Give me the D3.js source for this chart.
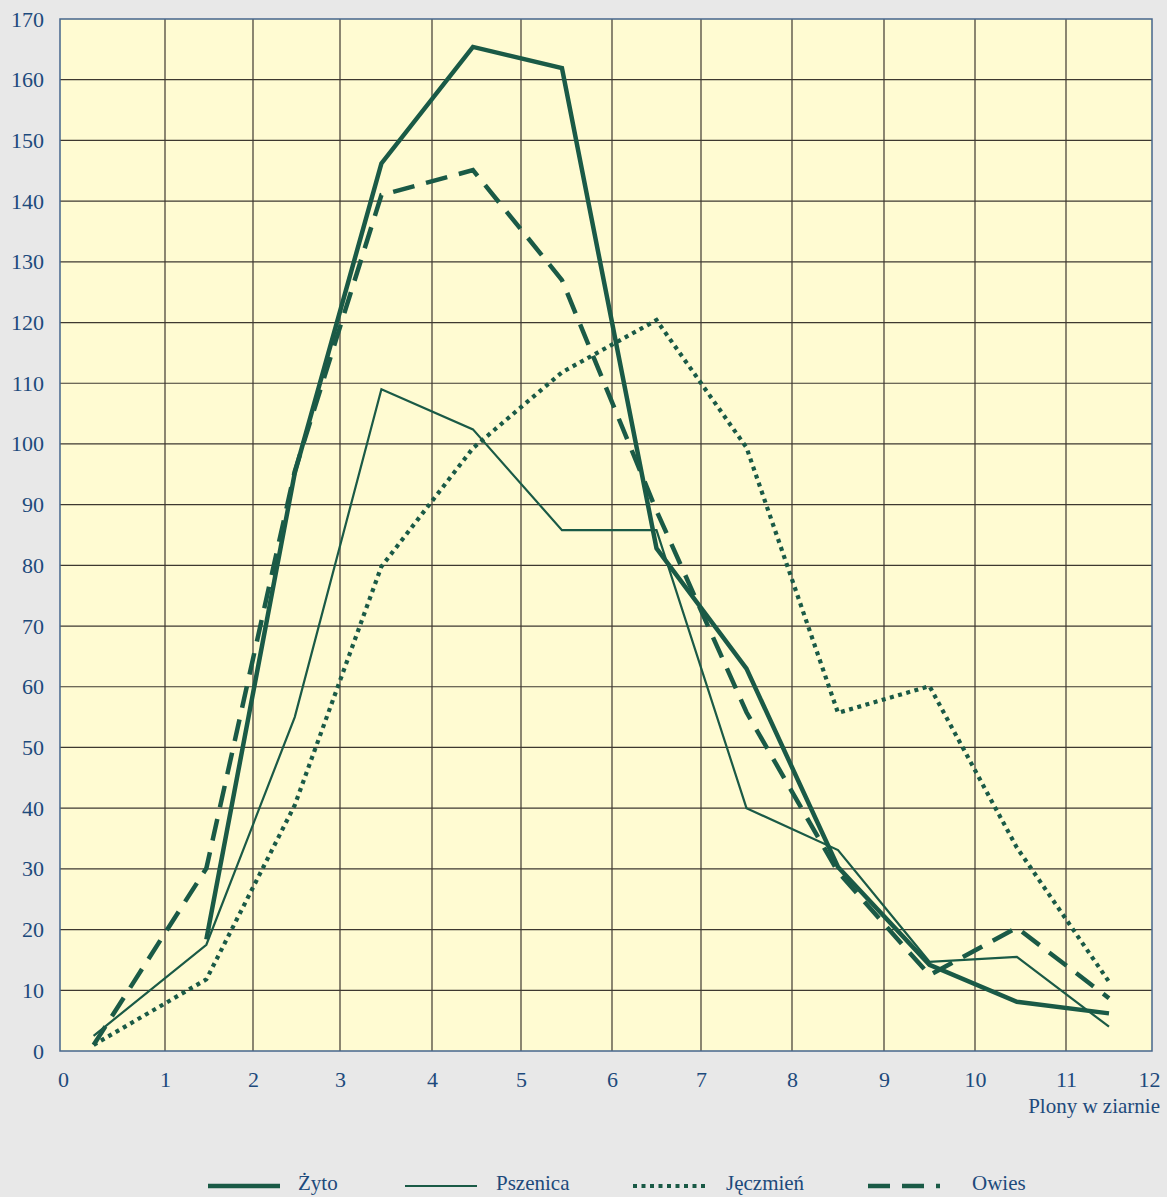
<!DOCTYPE html>
<html>
<head>
<meta charset="utf-8">
<script src="https://cdn.jsdelivr.net/npm/d3@7"></script>
<style>
  body { margin: 0; background: #e8e8e8; }
  svg { display: block; }
</style>
</head>
<body>
<svg width="1167" height="1197"></svg>
<script>
// classes of yield (x) and counts per crop
const xClasses = [0.32, 1.47, 2.48, 3.45, 4.46, 5.45, 6.5, 7.5, 8.5, 9.5, 10.46, 11.5];
const zyto     = [null, 18.4, 95.2, 146.2, 165.4, 161.9, 82.8, 63.0, 30.3, 14.2, 8.1, 6.2];
const pszenica = [2.5, 17.5, 55.0, 109.0, 102.4, 85.8, 85.8, 40.0, 33.1, 14.7, 15.5, 4.0];
const jeczmien = [1.0, 11.8, 40.5, 79.8, 99.3, 111.8, 120.4, 99.4, 55.7, 60.1, 33.5, 11.4];
const owies    = [1.0, 30.1, 95.5, 141.0, 145.1, 127.0, 89.0, 55.8, 29.5, 12.5, 20.3, 8.7];

const xTicks = d3.range(0, 13);
const yTicks = d3.range(0, 171, 10);
// gridline positions in the source drawing are not evenly spaced
const xGridPx = [60, 165, 253, 340, 432, 521, 612, 701, 792, 884, 975, 1066, 1152];

const series = [
  { name: "Żyto",     values: zyto,     width: 4.5, dash: null },
  { name: "Pszenica", values: pszenica, width: 2.2, dash: null },
  { name: "Jęczmień", values: jeczmien, width: 4.2, dash: "4,4.5" },
  { name: "Owies",    values: owies,    width: 4.5, dash: "22,12" }
];

const lineColor = "#1a5a46";
const textColor = "#1d4a7c";
const font = "Liberation Serif, Times New Roman, serif";

const svg = d3.select("svg");

const x = d3.scaleLinear().domain(xTicks).range(xGridPx);
const y = d3.scaleLinear().domain([0, 170]).range([1051, 19]);

// plot background
svg.append("rect")
  .attr("x", x(0)).attr("y", y(170))
  .attr("width", x(12) - x(0)).attr("height", y(0) - y(170))
  .attr("fill", "#fffbd2");

// grid
const grid = svg.append("g").attr("stroke", "#3e3830").attr("stroke-width", 1.2);
grid.selectAll(".gx").data(xTicks.slice(1, -1)).enter().append("line")
  .attr("x1", d => x(d)).attr("x2", d => x(d))
  .attr("y1", y(0)).attr("y2", y(170));
grid.selectAll(".gy").data(yTicks.slice(1, -1)).enter().append("line")
  .attr("x1", x(0)).attr("x2", x(12))
  .attr("y1", d => y(d)).attr("y2", d => y(d));

// frame
svg.append("rect")
  .attr("x", x(0)).attr("y", y(170))
  .attr("width", x(12) - x(0)).attr("height", y(0) - y(170))
  .attr("fill", "none").attr("stroke", "#46668c").attr("stroke-width", 1.5);

// axes
const yAxis = svg.append("g")
  .attr("transform", `translate(${x(0)},0)`)
  .call(d3.axisLeft(y).tickValues(yTicks).tickSize(0).tickPadding(16));
const xAxis = svg.append("g")
  .attr("transform", `translate(0,${y(0)})`)
  .call(d3.axisBottom(x).tickValues(xTicks).tickSize(0).tickPadding(20));

[yAxis, xAxis].forEach(a => {
  a.select(".domain").remove();
  a.selectAll("text")
    .attr("fill", textColor)
    .style("font-family", font)
    .style("font-size", "22px");
});
xAxis.selectAll("text").filter(d => d === 0).attr("dx", 3);
xAxis.selectAll("text").filter(d => d === 12).attr("dx", -3);

svg.append("text")
  .attr("x", 1160).attr("y", 1113)
  .attr("text-anchor", "end")
  .attr("fill", textColor)
  .style("font-family", font).style("font-size", "21px")
  .text("Plony w ziarnie");

// lines
const line = d3.line()
  .defined(d => d[1] != null)
  .x(d => x(d[0]))
  .y(d => y(d[1]));

svg.append("g").selectAll("path").data(series).enter().append("path")
  .attr("d", s => line(xClasses.map((c, i) => [c, s.values[i]])))
  .attr("fill", "none")
  .attr("stroke", lineColor)
  .attr("stroke-width", s => s.width)
  .attr("stroke-dasharray", s => s.dash)
  .attr("stroke-linejoin", "miter");

// legend
const legendX = [208, 405, 633, 868];
const legend = svg.append("g").selectAll("g").data(series).enter().append("g")
  .attr("transform", (d, i) => `translate(${legendX[i]},1186)`);
legend.append("line")
  .attr("x1", 0).attr("x2", 72)
  .attr("stroke", lineColor)
  .attr("stroke-width", d => d.width)
  .attr("stroke-dasharray", d => d.dash);
legend.append("text")
  .attr("x", (d, i) => [90, 91, 93, 104][i]).attr("y", 4)
  .attr("fill", textColor)
  .style("font-family", font).style("font-size", "21px")
  .text(d => d.name);
</script>
</body>
</html>
